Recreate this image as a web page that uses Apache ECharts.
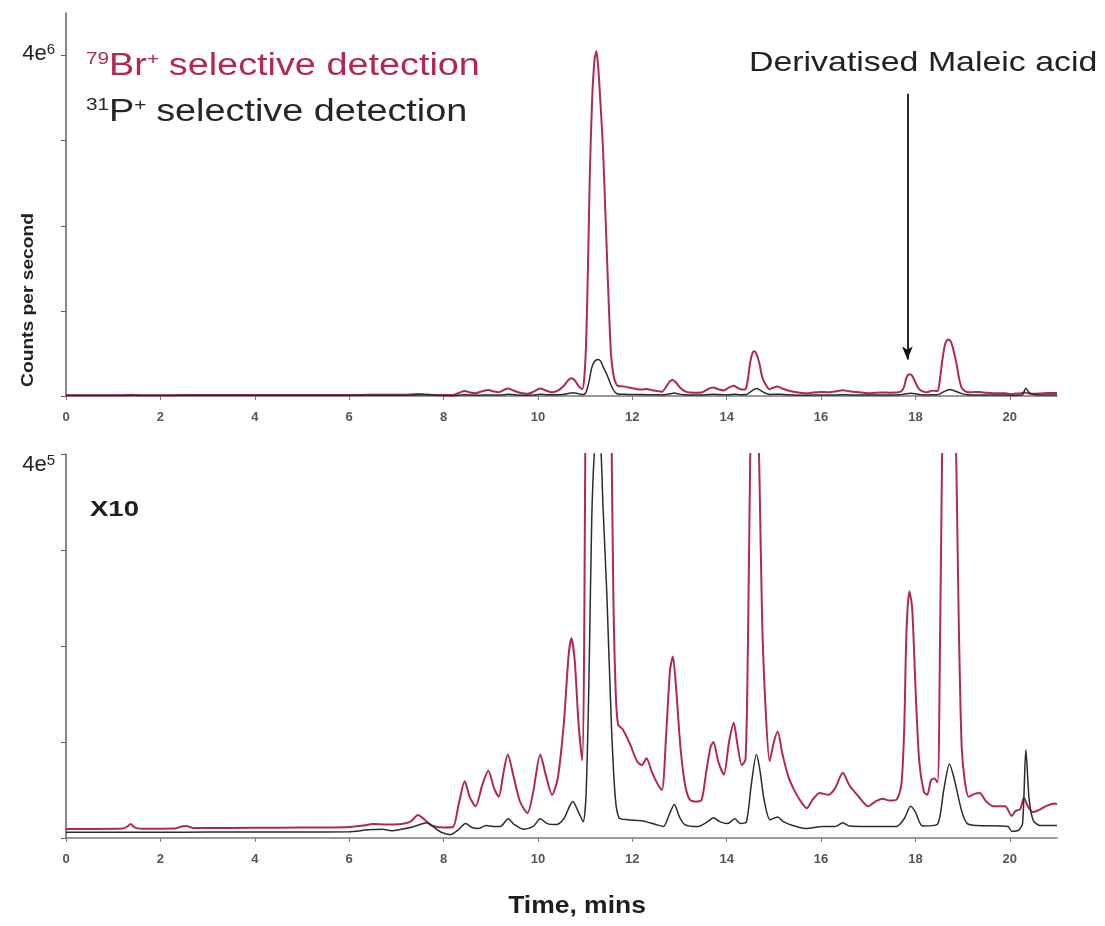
<!DOCTYPE html>
<html>
<head>
<meta charset="utf-8">
<title>Br / P selective detection</title>
<script src="https://cdn.jsdelivr.net/npm/echarts@6.0.0/dist/echarts.min.js"></script>
<style>
  html, body { margin: 0; padding: 0; background: #fff; }
  #chart { width: 1105px; height: 926px; }
</style>
</head>
<body>
<div id="chart"></div>
<script>
// 79Br+ trace (red), time in minutes / counts per second
const brTime = [0, 0.6, 1.2, 1.3, 1.37, 1.45, 1.6, 2.3, 2.45, 2.55, 2.7, 3.5, 4.5, 5.5, 6.0, 6.3, 6.5, 6.8, 7.1, 7.3,
  7.46, 7.6, 7.75, 8.0, 8.2, 8.32, 8.45, 8.56, 8.68, 8.82, 8.95, 9.07, 9.17, 9.27, 9.36, 9.48, 9.62, 9.78, 9.9, 10.05,
  10.17, 10.3, 10.42, 10.55, 10.65, 10.71, 10.78, 10.86, 10.94, 10.98, 11.02, 11.06, 11.1, 11.15, 11.2, 11.24, 11.28,
  11.33, 11.38, 11.44, 11.5, 11.55, 11.6, 11.65, 11.7, 11.8, 11.95, 12.1, 12.2, 12.3, 12.42, 12.55, 12.63, 12.72, 12.8,
  12.86, 12.93, 13.02, 13.12, 13.22, 13.35, 13.47, 13.57, 13.66, 13.72, 13.82, 13.94, 14.05, 14.15, 14.22, 14.32, 14.4,
  14.45, 14.5, 14.55, 14.59, 14.64, 14.69, 14.75, 14.82, 14.91, 15.0, 15.08, 15.18, 15.3, 15.45, 15.6, 15.7, 15.82,
  15.97, 16.15, 16.3, 16.46, 16.6, 16.8, 17.0, 17.15, 17.3, 17.45, 17.6, 17.7, 17.76, 17.81, 17.87, 17.93, 18.0, 18.08,
  18.18, 18.25, 18.33, 18.4, 18.47, 18.52, 18.57, 18.63, 18.69, 18.75, 18.81, 18.87, 18.92, 18.98, 19.05, 19.13, 19.25,
  19.36, 19.5, 19.66, 19.9, 20.04, 20.12, 20.22, 20.3, 20.38, 20.49, 20.65, 20.8, 20.95, 21.0]
const brCounts = [9500, 9500, 9800, 12000, 14500, 11000, 9600, 9800, 12000, 12500, 10500, 10500, 10800, 11000, 11500,
  13000, 14500, 14000, 14500, 17000, 24000, 19000, 13000, 11000, 11500, 35000, 59000, 42000, 33000, 55000, 70000, 52000,
  43000, 68000, 87000, 65000, 38000, 26000, 48000, 87000, 65000, 45000, 62000, 120000, 190000, 208000, 185000, 120000,
  81000, 200000, 600000, 1500000, 2600000, 3500000, 3950000, 4050000, 3850000, 3400000, 2900000, 2000000, 1100000,
  480000, 250000, 150000, 118000, 113000, 98000, 80000, 76000, 83000, 68000, 55000, 50000, 110000, 175000, 189000,
  155000, 95000, 55000, 40000, 38000, 40000, 70000, 95000, 100000, 80000, 66000, 100000, 120000, 100000, 76000, 82000,
  200000, 400000, 510000, 525000, 480000, 390000, 230000, 140000, 80000, 100000, 111000, 88000, 65000, 48000, 36000,
  31000, 40000, 47000, 45000, 52000, 68000, 55000, 43000, 33000, 38000, 41000, 39000, 40000, 55000, 110000, 215000,
  257000, 240000, 158000, 80000, 48000, 45000, 60000, 62000, 58000, 200000, 420000, 610000, 665000, 640000, 530000,
  380000, 220000, 95000, 58000, 43000, 46000, 47000, 38000, 33000, 33000, 23000, 28000, 30000, 42000, 33000, 27000,
  30000, 34000, 36000, 35000]

// 31P+ trace (black)
const pTime = [0, 1.0, 2.0, 3.0, 4.0, 5.0, 6.0, 6.4, 6.7, 6.9, 7.1, 7.3, 7.5, 7.65, 7.8, 7.95, 8.15, 8.3, 8.47, 8.6,
  8.75, 8.9, 9.05, 9.2, 9.37, 9.5, 9.7, 9.9, 10.05, 10.2, 10.4, 10.55, 10.66, 10.74, 10.85, 10.96, 11.02, 11.08, 11.14,
  11.2, 11.27, 11.33, 11.38, 11.46, 11.56, 11.64, 11.72, 11.9, 12.2, 12.5, 12.66, 12.78, 12.89, 13.0, 13.11, 13.4,
  13.6, 13.72, 13.85, 14.02, 14.17, 14.3, 14.42, 14.52, 14.63, 14.7, 14.8, 14.92, 15.08, 15.2, 15.4, 15.67, 16.05,
  16.3, 16.46, 16.6, 17.0, 17.6, 17.76, 17.9, 18.0, 18.15, 18.46, 18.6, 18.72, 18.82, 18.98, 19.1, 19.3, 19.96, 20.04,
  20.18, 20.27, 20.34, 20.41, 20.5, 20.65, 21.0]
const pCounts = [6000, 6000, 6000, 6200, 6200, 6300, 6500, 8500, 9000, 7500, 9000, 11000, 14000, 16000, 11000, 6000,
  3500, 8000, 15000, 11000, 10000, 13000, 12000, 12000, 20000, 14000, 9000, 12000, 20000, 15000, 14000, 20000, 32000,
  38000, 28000, 17000, 45000, 160000, 330000, 405000, 430000, 410000, 345000, 255000, 115000, 42000, 21000, 19000,
  18000, 14000, 12000, 24000, 35000, 22000, 14000, 12000, 17000, 21000, 17000, 15000, 20000, 15000, 17000, 55000,
  87000, 72000, 38000, 19000, 22000, 17000, 13000, 10000, 12000, 12000, 16000, 12500, 12000, 12000, 20000, 33000,
  27000, 12500, 14000, 50000, 77000, 62000, 28000, 15000, 13000, 12000, 7000, 8000, 15000, 92000, 40000, 18000, 13000,
  13000]

const xTicks = [0, 2, 4, 6, 8, 10, 12, 14, 16, 18, 20]
const topTicks = [0, 1e6, 2e6, 3e6, 4e6]
const bottomTicks = [0, 1e5, 2e5, 3e5, 4e5]
const arrowTime = 17.83

const RED = '#b1294f'
const DARK = '#2b2b2b'
const FONT = '"Liberation Sans", Arial, sans-serif'

function pairs(t, v) {
  return t.map((x, i) => [x, v[i]])
}

function xAxisFor(grid) {
  return {
    gridIndex: grid,
    type: 'value',
    min: 0,
    max: 21,
    axisLine: { onZero: false, lineStyle: { color: '#7a7a7a', width: 1.5 } },
    axisTick: { customValues: xTicks, length: 4, lineStyle: { color: '#7a7a7a' } },
    axisLabel: { customValues: xTicks, margin: 15, fontSize: 13, fontWeight: 'bold', color: '#555', fontFamily: FONT },
    splitLine: { show: false }
  }
}

function yAxisFor(grid, max, ticks, exp, pad) {
  return {
    gridIndex: grid,
    type: 'value',
    min: 0,
    max: max,
    axisLine: { show: true, lineStyle: { color: '#5f5f6a', width: 1.5 } },
    axisTick: { show: true, customValues: ticks, length: 5, lineStyle: { color: '#5f5f6a' } },
    axisLabel: {
      customValues: [ticks[ticks.length - 1]],
      margin: 11,
      padding: pad,
      formatter: () => '{n|4e}{s|' + exp + '}',
      rich: {
        n: { fontSize: 22, lineHeight: 23, color: '#222', fontFamily: FONT },
        s: { fontSize: 15, lineHeight: 15, verticalAlign: 'top', color: '#222', fontFamily: FONT }
      }
    },
    splitLine: { show: false }
  }
}

function lineSeries(name, grid, data, color, width, extra) {
  return Object.assign({
    name: name,
    type: 'line',
    xAxisIndex: grid,
    yAxisIndex: grid,
    data: data,
    showSymbol: false,
    smooth: 0.25,
    clip: true,
    lineStyle: { color: color, width: width },
    itemStyle: { color: color }
  }, extra || {})
}

// legend-like labels with superscript isotope numbers
function isoLabel(y, mass, elem, color) {
  return {
    type: 'text', x: 86, y: y, scaleX: 1.22,
    style: {
      text: '{s|' + mass + '}{b|' + elem + '}{p|+}{b|selective detection}',
      fill: color, verticalAlign: 'middle', textVerticalAlign: 'middle',
      rich: {
        b: { fontSize: 31, lineHeight: 31, fill: color, color: color, fontFamily: FONT },
        s: { fontSize: 17, lineHeight: 17, verticalAlign: 'top', fill: color, color: color, fontFamily: FONT },
        p: { fontSize: 17, lineHeight: 17, verticalAlign: 'top', padding: [0, 8, 0, 0], fill: color, color: color, fontFamily: FONT }
      }
    }
  }
}

const chart = echarts.init(document.getElementById('chart'))

chart.setOption({
  animation: false,
  backgroundColor: '#fff',
  textStyle: { fontFamily: FONT },
  grid: [
    { left: 66, top: 13, width: 991, height: 383 },
    { left: 66, top: 454, width: 991, height: 384 }
  ],
  xAxis: [xAxisFor(0), xAxisFor(1)],
  yAxis: [
    yAxisFor(0, 4.5e6, topTicks, '6', [0, 0, 4, 0]),
    yAxisFor(1, 4e5, bottomTicks, '5', [22, 0, 0, 0])
  ],
  series: [
    lineSeries('79Br+', 0, pairs(brTime, brCounts), RED, 2, {
      markLine: {
        silent: true,
        symbol: ['none', 'arrow'],
        symbolSize: [8, 13],
        label: { show: false },
        lineStyle: { color: '#111', width: 1.8, type: 'solid' },
        data: [[{ coord: [arrowTime, 3.55e6] }, { coord: [arrowTime, 0.43e6] }]]
      }
    }),
    lineSeries('31P+', 0, pairs(pTime, pCounts), DARK, 1.5),
    lineSeries('79Br+ x10', 1, pairs(brTime, brCounts), RED, 2),
    lineSeries('31P+ x10', 1, pairs(pTime, pCounts), DARK, 1.5)
  ],
  graphic: [
    isoLabel(66, '79', 'Br', RED),
    isoLabel(112, '31', 'P', '#262626'),
    {
      type: 'text', x: 749, y: 63, scaleX: 1.21,
      style: {
        text: 'Derivatised Maleic acid',
        fill: '#222', font: '28px ' + FONT,
        verticalAlign: 'middle', textVerticalAlign: 'middle'
      }
    },
    {
      type: 'text', x: 90, y: 510, scaleX: 1.25,
      style: {
        text: 'X10',
        fill: '#1e1e1e', font: 'bold 22px ' + FONT,
        verticalAlign: 'middle', textVerticalAlign: 'middle'
      }
    },
    {
      type: 'text', x: 577, y: 907, scaleX: 1.15,
      style: {
        text: 'Time, mins',
        fill: '#1e1e1e', font: 'bold 23px ' + FONT,
        align: 'center', textAlign: 'center',
        verticalAlign: 'middle', textVerticalAlign: 'middle'
      }
    },
    {
      type: 'text', x: 29, y: 300, rotation: Math.PI / 2, scaleX: 1.2,
      style: {
        text: 'Counts per second',
        fill: '#222', font: 'bold 16px ' + FONT,
        align: 'center', textAlign: 'center',
        verticalAlign: 'middle', textVerticalAlign: 'middle'
      }
    }
  ]
})
</script>
</body>
</html>
